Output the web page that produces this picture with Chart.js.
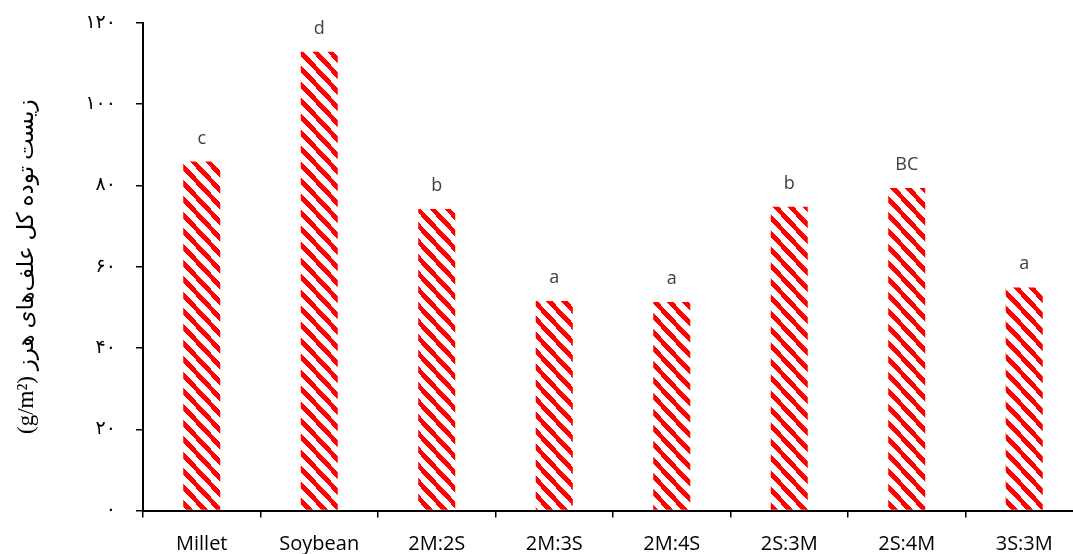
<!DOCTYPE html>
<html>
<head>
<meta charset="utf-8">
<script src="https://cdn.jsdelivr.net/npm/chart.js@4.4.1/dist/chart.umd.min.js"></script>
<style>
  html, body { margin: 0; padding: 0; background: #fff; overflow: hidden; }
  #wrap { position: relative; width: 1090px; height: 554px; }
</style>
</head>
<body>
<div id="wrap"><canvas id="c" width="1090" height="554"></canvas></div>
<script>
// Treatments (M = millet rows, S = soybean rows)
const categories = ['Millet', 'Soybean', '2M:2S', '2M:3S', '2M:4S', '2S:3M', '2S:4M', '3S:3M'];
// Total weed biomass, g/m²
const biomass = [85.9, 112.9, 74.2, 51.6, 51.3, 74.8, 79.4, 54.9];
// Mean-separation letters shown above each bar
const groupLetters = ['c', 'd', 'b', 'a', 'a', 'b', 'BC', 'a'];
// Value-axis ticks
const yTicks = [0, 20, 40, 60, 80, 100, 120];

const persianDigits = '۰۱۲۳۴۵۶۷۸۹';
const toPersian = v => String(v).replace(/\d/g, d => persianDigits[d]);
const yTitle = '(g/m²) زیست توده کل علف‌های هرز';

// Red / white downward-diagonal hatch, crisp pixels
function makeStripes() {
  const W = 15, H = 16, T = 7;
  const cv = document.createElement('canvas');
  cv.width = W; cv.height = H;
  const g = cv.getContext('2d');
  const img = g.createImageData(W, H);
  for (let y = 0; y < H; y++) {
    for (let x = 0; x < W; x++) {
      const d = (((y - x * H / W) % H) + H) % H;
      const i = (y * W + x) * 4;
      if (d < T) { img.data[i] = 255; img.data[i + 1] = 0; img.data[i + 2] = 0; }
      else { img.data[i] = 255; img.data[i + 1] = 255; img.data[i + 2] = 255; }
      img.data[i + 3] = 255;
    }
  }
  g.putImageData(img, 0, 0);
  return g.createPattern(cv, 'repeat');
}

const letterPlugin = {
  id: 'groupLetters',
  afterDatasetsDraw(chart) {
    const meta = chart.getDatasetMeta(0);
    const c = chart.ctx;
    c.save();
    c.font = '18px "Open Sans"';
    c.fillStyle = '#404040';
    c.textAlign = 'center';
    c.textBaseline = 'alphabetic';
    meta.data.forEach((bar, i) => c.fillText(groupLetters[i], bar.x, bar.y - 18));
    c.restore();
  }
};

const ctx = document.getElementById('c').getContext('2d');
new Chart(ctx, {
  type: 'bar',
  data: {
    labels: categories,
    datasets: [{
      data: biomass,
      backgroundColor: makeStripes(),
      borderWidth: 0,
      barPercentage: 0.315,
      categoryPercentage: 1
    }]
  },
  options: {
    responsive: false,
    animation: false,
    devicePixelRatio: 1,
    layout: { padding: { top: 23, right: 7, left: 0, bottom: 0 } },
    plugins: { legend: { display: false }, tooltip: { enabled: false } },
    scales: {
      x: {
        grid: { display: true, drawOnChartArea: false, drawTicks: true, tickLength: 7, color: '#000', lineWidth: 1.5, offset: true },
        border: { display: true, color: '#000', width: 2 },
        ticks: { color: '#000', font: { family: 'Open Sans', size: 20 }, padding: 15, maxRotation: 0, autoSkip: false },
        afterFit(s) { s.height = 43.5; s.paddingLeft = 0; s.paddingRight = 0; }
      },
      y: {
        min: 0, max: 120,
        afterBuildTicks(s) { s.ticks = yTicks.map(v => ({ value: v })); },
        grid: { display: true, drawOnChartArea: false, drawTicks: true, tickLength: 7, color: '#000', lineWidth: 1.5 },
        border: { display: true, color: '#000', width: 2 },
        ticks: {
          color: '#000', padding: 20,
          font: { family: "'Liberation Serif', 'DejaVu Sans'", size: 19 },
          callback: v => toPersian(v)
        },
        title: {
          display: true, text: yTitle, color: '#000',
          font: { family: "'Liberation Serif', 'DejaVu Sans'", size: 23 },
          padding: { top: 13, bottom: 0 }
        },
        afterFit(s) { s.width = 143; s.paddingTop = 0; s.paddingBottom = 0; }
      }
    }
  },
  plugins: [letterPlugin]
});
</script>
</body>
</html>
